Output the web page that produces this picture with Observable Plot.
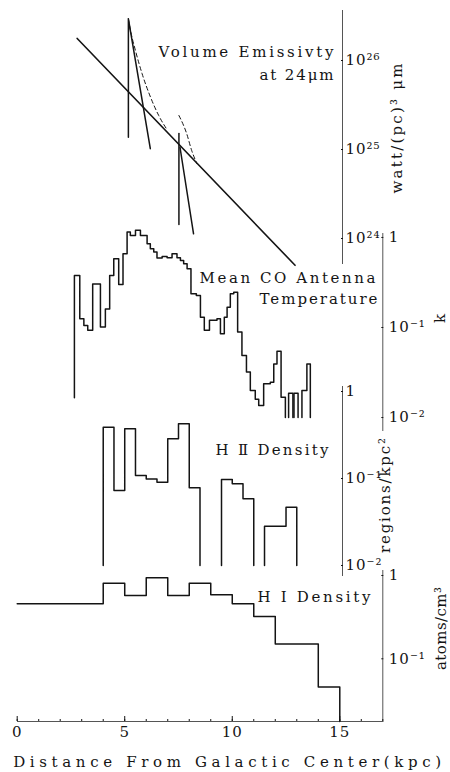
<!DOCTYPE html>
<html><head><meta charset="utf-8">
<script src="https://cdn.jsdelivr.net/npm/d3@7"></script>
<script src="https://cdn.jsdelivr.net/npm/@observablehq/plot@0.6"></script>
<style>
html,body{margin:0;padding:0;background:#fff;}
#chart{position:relative;width:450px;height:772px;overflow:hidden;background:#fff;}
#chart svg{position:absolute;left:0;top:0;}
</style></head><body><div id="chart"></div>
<script>
// ---------------- DATA ----------------
// Volume emissivity at 24um  [r (kpc), watt/(pc)^3 um]
const emisDisk     = [[2.79, 1.77e26], [12.92, 5.0e23]];
const emisRing1    = [[5.17, 1.37e25], [5.17, 2.94e26], [6.19, 1.02e25]];
const emisRing1Sum = [[5.17, 2.94e26], [5.27, 2.17e26], [5.50, 1.29e26], [5.81, 7.08e25], [6.20, 3.87e25], [6.58, 2.41e25], [6.94, 1.71e25]];
const emisRing2    = [[7.52, 1.44e24], [7.52, 1.51e25]];
const emisRing2Fall= [[7.57, 1.06e25], [8.20, 1.13e24]];
const emisRing2Sum = [[7.52, 2.41e25], [7.88, 1.51e25], [8.11, 9.8e24], [8.35, 6.97e24]];
const emisTicks = [1e24, 1e25, 1e26];

// Mean CO antenna temperature (K): bin edges (kpc) and levels; null = empty bin
const coEdges = [2.66, 2.91, 3.10, 3.28, 3.51, 3.87, 4.10, 4.30, 4.49, 4.72, 4.92, 5.11, 5.26, 5.50, 5.73, 6.04, 6.19, 6.35, 6.50, 6.74,
  6.97, 7.20, 7.43, 7.59, 7.74, 7.90, 8.08, 8.33, 8.52, 8.70, 8.94, 9.29, 9.45, 9.63, 9.76, 9.91, 10.07, 10.25, 10.45, 10.66,
  10.84, 11.07, 11.23, 11.46, 11.77, 11.93, 12.08, 12.27, 12.47, 12.62, 12.82, 12.87, 13.06, 13.24, 13.47, 13.63];
const coLevels = [0.378, 0.125, 0.105, 0.093, 0.305, 0.101, 0.161, 0.378, 0.58, 0.30,
  0.66, 1.15, 1.05, 1.20, 1.05, 0.85, 0.75, 0.69, 0.59, 0.615,
  0.594, 0.659, 0.594, 0.555, 0.509, 0.449, 0.237, 0.227, 0.130, 0.093,
  0.120, 0.125, 0.085, 0.130, 0.168, 0.237, 0.247, 0.089, 0.049, 0.032,
  0.020, 0.016, 0.0136, 0.0237, 0.0247, 0.0394, 0.0546, 0.0168, null, 0.0186,
  null, 0.0186, null, 0.020, 0.0394];
const coStart = 0.0166;
const coTicks = [1, 0.1, 0.01];

// HII region density (regions/kpc^2)
const hiiEdges  = [4.0, 4.5, 5.0, 5.5, 6.0, 6.5, 7.0, 7.5, 8.0, 8.5, 9.5, 10.0, 10.5, 11.0, 11.5, 12.5, 13.0];
const hiiLevels = [0.389, 0.0728, 0.372, 0.108, 0.099, 0.0908, 0.286, 0.425, 0.0781, null, 0.0975, 0.0869, 0.0584, null, 0.0283, 0.0468];
const hiiTicks = [1, 0.1, 0.01];

// HI density (atoms/cm^3)
const hiEdges  = [0, 4, 5, 6, 7, 8, 9, 10, 11, 12, 14, 15];
const hiLevels = [0.457, 0.809, 0.575, 0.938, 0.575, 0.809, 0.586, 0.457, 0.322, 0.151, 0.0457];
const hiTicks = [1, 0.1];

const xMajor = [0, 5, 10, 15];
const xMinor = d3.range(0, 18);

// ---------------- helpers ----------------
const W = 450, H = 772;
const FONT = "'DejaVu Serif', 'Liberation Serif', 'Noto Sans CJK JP', serif";
const INK = "#141414";
const SUP = {"0":"⁰","1":"¹","2":"²","3":"³","4":"⁴","5":"⁵","6":"⁶","7":"⁷","8":"⁸","9":"⁹","-":"⁻"};
const pow10 = d => { const e = Math.round(Math.log10(d)); return e === 0 ? "1" : "10" + String(e).split("").map(c => SUP[c]).join(""); };
const pts = arr => arr.map(([x, y]) => ({x, y}));

function steps(edges, levels, floor, startLevel) {
  const out = []; let seg = 0, open = false;
  for (let i = 0; i < levels.length; i++) {
    const v = levels[i], x0 = edges[i], x1 = edges[i + 1];
    if (v == null) { if (open) { out.push({x: x0, y: floor, seg}); seg++; open = false; } continue; }
    if (!open) {
      const s = (i === 0 && startLevel !== undefined) ? startLevel : floor;
      if (s !== null) out.push({x: x0, y: s, seg});
      open = true;
    }
    out.push({x: x0, y: v, seg}, {x: x1, y: v, seg});
  }
  if (open) out.push({x: edges[edges.length - 1], y: floor, seg});
  return out;
}

function panel({top, bottom, right, ydom, marks}) {
  return Plot.plot({
    width: W, height: H,
    marginLeft: 17, marginRight: W - right, marginTop: top, marginBottom: H - bottom,
    x: {domain: [0, 17], range: [16.7, 382.3], axis: null},
    y: {type: "log", domain: ydom, axis: null},
    style: {background: "transparent", fontFamily: FONT, fontSize: "15px", color: INK, overflow: "visible"},
    marks
  });
}
const label = (t, o) => Plot.text([t], {text: d => d, fill: INK, lineAnchor: "middle", ...o});
const yAxis = (ticks, pad) => Plot.axisY({anchor: "right", ticks, tickFormat: pow10, tickSize: -2, tickPadding: pad, label: null, stroke: INK, fill: INK});

// ---------------- panels ----------------
const pEmis = panel({
  top: 10, bottom: 263, right: 342, ydom: [Math.pow(10, 23.719), Math.pow(10, 26.562)],
  marks: [
    Plot.frame({anchor: "right", stroke: "#555"}),
    yAxis(emisTicks, 5),
    Plot.line(pts(emisDisk), {x: "x", y: "y", stroke: INK, strokeWidth: 1.6}),
    Plot.line(pts(emisRing1), {x: "x", y: "y", stroke: INK, strokeWidth: 1.5}),
    Plot.line(pts(emisRing2), {x: "x", y: "y", stroke: INK, strokeWidth: 1.5}),
    Plot.line(pts(emisRing2Fall), {x: "x", y: "y", stroke: INK, strokeWidth: 1.5}),
    Plot.line(pts(emisRing1Sum), {x: "x", y: "y", stroke: INK, strokeWidth: 1, strokeDasharray: "4,3", curve: "monotone-x"}),
    Plot.line(pts(emisRing2Sum), {x: "x", y: "y", stroke: INK, strokeWidth: 1, strokeDasharray: "4,3", curve: "monotone-x"}),
    label("Volume Emissivty", {frameAnchor: "top-right", dx: -9, dy: 42, textAnchor: "end"}),
    label("at 24μm", {frameAnchor: "top-right", dx: -9, dy: 65, textAnchor: "end"}),
    label("watt/(pc)³ μm", {frameAnchor: "right", rotate: -90, dx: 55, dy: -8.5, textAnchor: "middle"})
  ]
});

const pCO = panel({
  top: 233, bottom: 430, right: 382.3, ydom: [Math.pow(10, -2.144), Math.pow(10, 0.044)],
  marks: [
    Plot.frame({anchor: "right", stroke: "#555"}),
    yAxis(coTicks, 8),
    Plot.line(steps(coEdges, coLevels, 0.01, coStart), {x: "x", y: "y", z: "seg", stroke: INK, strokeWidth: 1.5}),
    label("Mean CO Antenna", {frameAnchor: "top-right", dx: -7.3, dy: 44.7, textAnchor: "end"}),
    label("Temperature", {frameAnchor: "top-right", dx: -5.3, dy: 65.3, textAnchor: "end"}),
    label("k", {frameAnchor: "right", rotate: -90, dx: 57.7, dy: -13.5, textAnchor: "middle"})
  ]
});

const pHII = panel({
  top: 386, bottom: 575, right: 342, ydom: [Math.pow(10, -2.115), Math.pow(10, 0.0575)],
  marks: [
    Plot.frame({anchor: "right", stroke: "#555"}),
    yAxis(hiiTicks, 5),
    Plot.line(steps(hiiEdges, hiiLevels, 0.01), {x: "x", y: "y", z: "seg", stroke: INK, strokeWidth: 1.5}),
    label("H Ⅱ Density", {frameAnchor: "top-right", dx: -14, dy: 64, textAnchor: "end"}),
    label("regions/kpc²", {frameAnchor: "right", rotate: -90, dx: 43, dy: 14.5, textAnchor: "middle"})
  ]
});

const hiFloor = Math.pow(10, -1.753);
const pHI = panel({
  top: 570, bottom: 721, right: 382.3, ydom: [hiFloor, Math.pow(10, 0.06)],
  marks: [
    Plot.frame({anchor: "right", stroke: "#555"}),
    Plot.frame({anchor: "bottom", stroke: "#555"}),
    yAxis(hiTicks, 8),
    Plot.axisX({ticks: xMinor, tickSize: -2, tickFormat: () => "", label: null, stroke: INK}),
    Plot.axisX({ticks: xMajor, tickSize: -5, tickPadding: 10, label: null, stroke: INK, fill: INK}),
    Plot.line(steps(hiEdges, hiLevels, hiFloor, null), {x: "x", y: "y", z: "seg", stroke: INK, strokeWidth: 1.5}),
    label("H I Density", {frameAnchor: "top-right", dx: -12.3, dy: 27, textAnchor: "end"}),
    label("atoms/cm³", {frameAnchor: "right", rotate: -90, dx: 58.5, dy: -17.5, textAnchor: "middle"}),
    label("Distance From Galactic Center(kpc)", {frameAnchor: "bottom", dx: 27, dy: 41, textAnchor: "middle"})
  ]
});

const chart = document.getElementById("chart");
const LABEL_WIDTHS = {
  "Volume Emissivty": 175, "at 24μm": 74, "Mean CO Antenna": 176, "Temperature": 118,
  "H Ⅱ Density": 113, "H I Density": 113, "Distance From Galactic Center(kpc)": 428,
  "watt/(pc)³ μm": 130, "regions/kpc²": 115, "atoms/cm³": 83
};
for (const p of [pEmis, pCO, pHII, pHI]) {
  chart.appendChild(p);
  d3.select(p).selectAll("text").each(function () {
    const t = this.textContent;
    if (LABEL_WIDTHS[t]) { this.setAttribute("textLength", LABEL_WIDTHS[t]); this.setAttribute("lengthAdjust", "spacing"); }
  });
  d3.select(p).selectAll('g[aria-label$="tick label"] text').style("letter-spacing", "1px");
}
</script></body></html>
